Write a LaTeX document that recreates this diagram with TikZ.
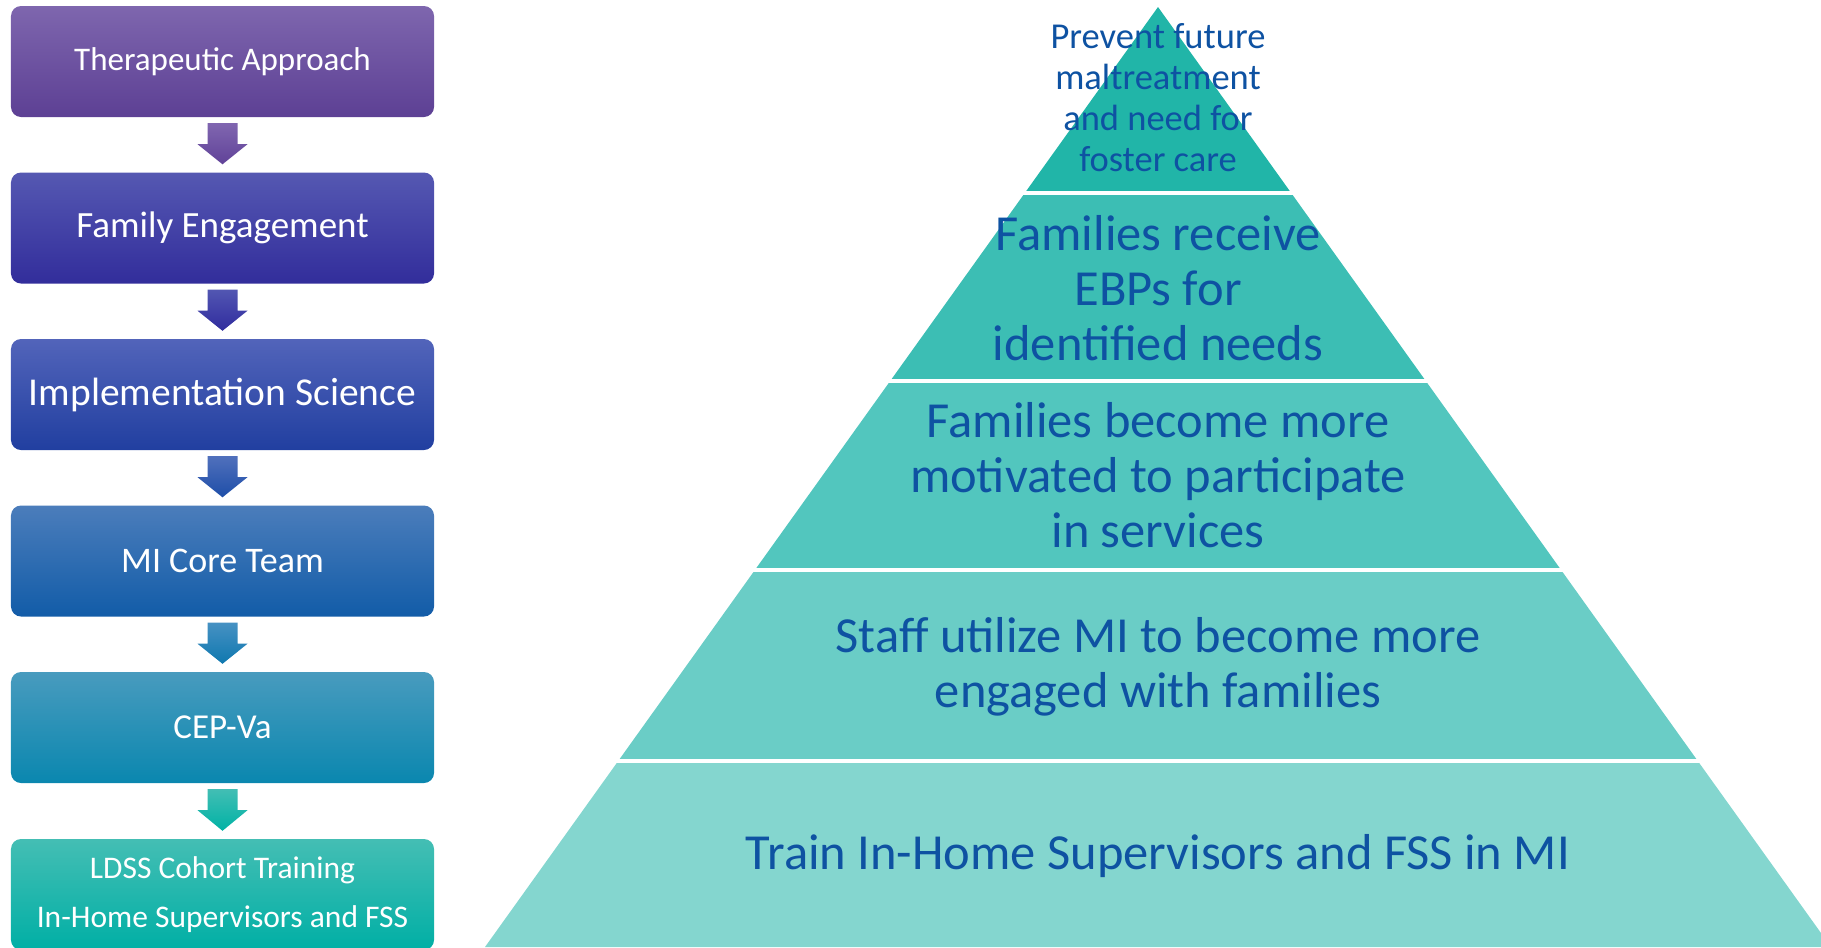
\documentclass[tikz,border=0pt]{standalone}
\usepackage{fontspec}
\setmainfont{Carlito}
\usetikzlibrary{calc}
\definecolor{bAt}{RGB}{126,102,174}
\definecolor{bAb}{RGB}{93,64,148}
\definecolor{bBt}{RGB}{85,88,178}
\definecolor{bBb}{RGB}{50,45,155}
\definecolor{bCt}{RGB}{82,100,186}
\definecolor{bCb}{RGB}{33,63,160}
\definecolor{bDt}{RGB}{75,125,187}
\definecolor{bDb}{RGB}{18,92,168}
\definecolor{bEt}{RGB}{72,155,190}
\definecolor{bEb}{RGB}{10,135,175}
\definecolor{bFt}{RGB}{68,190,180}
\definecolor{bFb}{RGB}{0,175,165}
\definecolor{aAt}{RGB}{128,102,176}
\definecolor{aAb}{RGB}{96,66,152}
\definecolor{aBt}{RGB}{82,86,178}
\definecolor{aBb}{RGB}{48,44,158}
\definecolor{aCt}{RGB}{80,112,188}
\definecolor{aCb}{RGB}{30,78,168}
\definecolor{aDt}{RGB}{70,145,195}
\definecolor{aDb}{RGB}{15,120,175}
\definecolor{aEt}{RGB}{66,190,180}
\definecolor{aEb}{RGB}{0,178,165}
\definecolor{pA}{RGB}{33,181,168}
\definecolor{pB}{RGB}{60,190,180}
\definecolor{pC}{RGB}{82,198,190}
\definecolor{pD}{RGB}{106,205,198}
\definecolor{pE}{RGB}{132,214,207}
\definecolor{ptextc}{RGB}{14,82,162}
\newcommand\blockarr[4]{%
  \shade[top color=#3,bottom color=#4]
    ($(#1.south)+(-15,6)$) -- ($(#1.south)+(15,6)$) -- ($(#1.south)+(15,27)$) --
    ($(#1.south)+(25,27)$) -- ($(#2.north)+(0,-8)$) -- ($(#1.south)+(-25,27)$) --
    ($(#1.south)+(-15,27)$) -- cycle;}
\begin{document}
\begin{tikzpicture}[x=1bp,y=-1bp,
  stepbox/.style={rounded corners=10bp, minimum width=423bp, minimum height=111bp,
    inner sep=0pt, text=white, align=center},
  ptext/.style={text=ptextc, align=center, inner sep=0pt,
    font=\fontsize{50.5bp}{55bp}\selectfont},
  sepline/.style={white, line width=3.5bp}]
\useasboundingbox (0,0) rectangle (1821,947);
\clip (0,0) rectangle (1821,947);
% left flow
\node[stepbox, top color=bAt, bottom color=bAb, font=\fontsize{33bp}{40bp}\selectfont] (b1) at (222.5,61.5) {Therapeutic Approach};
\node[stepbox, top color=bBt, bottom color=bBb, font=\fontsize{37bp}{44bp}\selectfont] (b2) at (222.5,228) {Family Engagement};
\node[stepbox, top color=bCt, bottom color=bCb, font=\fontsize{39.5bp}{46bp}\selectfont] (b3) at (222.5,394.5) {Implementation Science};
\node[stepbox, top color=bDt, bottom color=bDb, font=\fontsize{36bp}{43bp}\selectfont] (b4) at (222.5,561) {MI Core Team};
\node[stepbox, top color=bEt, bottom color=bEb, font=\fontsize{35bp}{42bp}\selectfont] (b5) at (222.5,727.5) {CEP-Va};
\node[stepbox, top color=bFt, bottom color=bFb, font=\fontsize{31.5bp}{48.5bp}\selectfont] (b6) at (222.5,894.5) {LDSS Cohort Training\\In-Home Supervisors and FSS};
\blockarr{b1}{b2}{aAt}{aAb}
\blockarr{b2}{b3}{aBt}{aBb}
\blockarr{b3}{b4}{aCt}{aCb}
\blockarr{b4}{b5}{aDt}{aDb}
\blockarr{b5}{b6}{aEt}{aEb}
% pyramid
\fill[pA] (1158,7) -- (1291.2,193) -- (1024.8,193) -- cycle;
\fill[pB] (1024.8,193) -- (1291.2,193) -- (1425.8,381) -- (890.2,381) -- cycle;
\fill[pC] (890.2,381) -- (1425.8,381) -- (1561.1,570) -- (754.9,570) -- cycle;
\fill[pD] (754.9,570) -- (1561.1,570) -- (1697.8,761) -- (618.2,761) -- cycle;
\fill[pE] (618.2,761) -- (1697.8,761) -- (1831,947) -- (485,947) -- cycle;
\draw[sepline] (450,193) -- (1821,193);
\draw[sepline] (450,381) -- (1821,381);
\draw[sepline] (450,570) -- (1821,570);
\draw[sepline] (450,761) -- (1821,761);
\node[ptext, font=\fontsize{36.5bp}{41bp}\selectfont] (t1) at (1158,98) {Prevent future\\maltreatment\\and need for\\foster care};
\node[ptext] (t2) at (1158,288) {Families receive\\EBPs for\\identified needs};
\node[ptext] (t3) at (1158,475.5) {Families become more\\motivated to participate\\in services};
\node[ptext] (t4) at (1158,667) {Staff utilize MI to become more\\engaged with families};
\node[ptext] (t5) at (1158,856) {Train In-Home Supervisors and FSS in MI};
\end{tikzpicture}
\end{document}
